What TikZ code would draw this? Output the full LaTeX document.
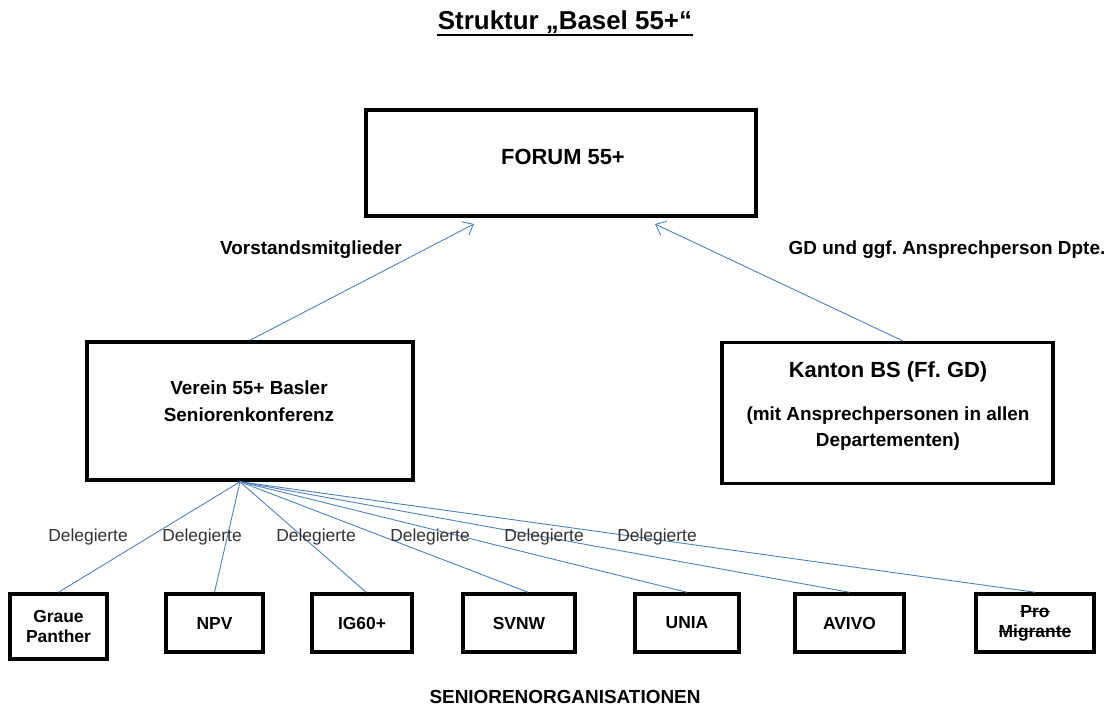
\documentclass[tikz,border=0pt]{standalone}
\usepackage{fontspec}
\setmainfont{Liberation Sans}
\usetikzlibrary{positioning, arrows.meta}
\definecolor{linkblue}{RGB}{79,129,189}
\newcommand{\strikeword}[1]{\setbox0\hbox{#1}\rlap{\rule[0.27em]{\wd0}{1.2bp}}\box0}
\frenchspacing

\begin{document}
\begin{tikzpicture}[x=1bp, y=-1bp,
	box/.style={draw, line width=3.5bp, inner sep=0pt},
	orgbox/.style={box, minimum height=58bp, align=center, font=\bfseries\fontsize{17.5}{20}\selectfont},
	link/.style={draw=linkblue, line width=0.9bp},
	uplink/.style={link, -{Straight Barb[length=9bp, width=15bp]}},
	lbl/.style={align=center, font=\bfseries\fontsize{19}{27}\selectfont},
	deleg/.style={font=\fontsize{17.5}{20}\selectfont, text=black!80}]
	\useasboundingbox (0,0) rectangle (1114,708);

	% Title
	\node[anchor=base, font=\bfseries\fontsize{26}{30}\selectfont] (title) at (565,30) {Struktur „Basel 55+“};
	\draw[line width=2.5bp] ([yshift=-5bp, xshift=3bp]title.base west) -- ([yshift=-5bp, xshift=-3bp]title.base east);

	% Upper level
	\node[box, minimum width=390bp, minimum height=106bp] (forum) at (561,163) {};
	\node[lbl, font=\bfseries\fontsize{22}{26}\selectfont] (forumtext) at (563,157) {FORUM 55+};

	\node[box, minimum width=326bp, minimum height=138bp] (verein) at (250,411) {};
	\node[lbl] (vereintext) at (249,401) {Verein 55+ Basler\\Seniorenkonferenz};

	\node[box, minimum width=331bp, minimum height=141bp] (kanton) at (887.5,413) {};
	\node[lbl, font=\bfseries\fontsize{22}{26}\selectfont] (kantontext) at (888,372) {Kanton BS (Ff. GD)};
	\node[lbl, font=\bfseries\fontsize{19}{26}\selectfont] (kantonsub) at (888,429) {(mit Ansprechpersonen in allen\\Departementen)};

	% Arrows to the forum
	\coordinate (fa) at (474,224);
	\coordinate (fb) at (655,224);
	\draw[uplink] (verein.north) -- (fa);
	\draw[uplink] ([xshift=15bp]kanton.north) -- (fb);
	\node[lbl] (vorstand) at (311,250) {Vorstandsmitglieder};
	\node[lbl] (gd) at (947,250) {GD und ggf. Ansprechperson Dpte.};

	% Senior organisations
	\node[orgbox, minimum width=97bp, minimum height=65bp] (gp) at (58.5,626.5) {Graue\\Panther};
	\node[orgbox, minimum width=97bp] (npv) at (214.5,623) {NPV};
	\node[orgbox, minimum width=100bp] (ig) at (362,623) {IG60+};
	\node[orgbox, minimum width=112bp] (svnw) at (519,623) {SVNW};
	\node[orgbox, minimum width=104bp] (unia) at (687,623) {UNIA};
	\node[orgbox, minimum width=109bp] (avivo) at (849.5,623) {AVIVO};
	\node[orgbox, minimum width=118bp] (pm) at (1035,623) {\strikeword{Pro}\\\strikeword{Migrante}};

	\coordinate (fan) at ([xshift=-10bp]verein.south);
	\draw[link] (fan) -- (gp.north);
	\draw[link] (fan) -- (npv.north);
	\draw[link] (fan) -- ([xshift=4bp]ig.north);
	\draw[link] (fan) -- ([xshift=9bp]svnw.north);
	\draw[link] (fan) -- (unia.north);
	\draw[link] (fan) -- (avivo.north);
	\draw[link] (fan) -- (pm.north);

	\foreach \i/\x in {1/88, 2/202, 3/316, 4/430, 5/544, 6/657}
		\node[deleg] (deleg\i) at (\x,537) {Delegierte};

	\node[lbl] (senior) at (565,697) {SENIORENORGANISATIONEN};
\end{tikzpicture}
\end{document}
